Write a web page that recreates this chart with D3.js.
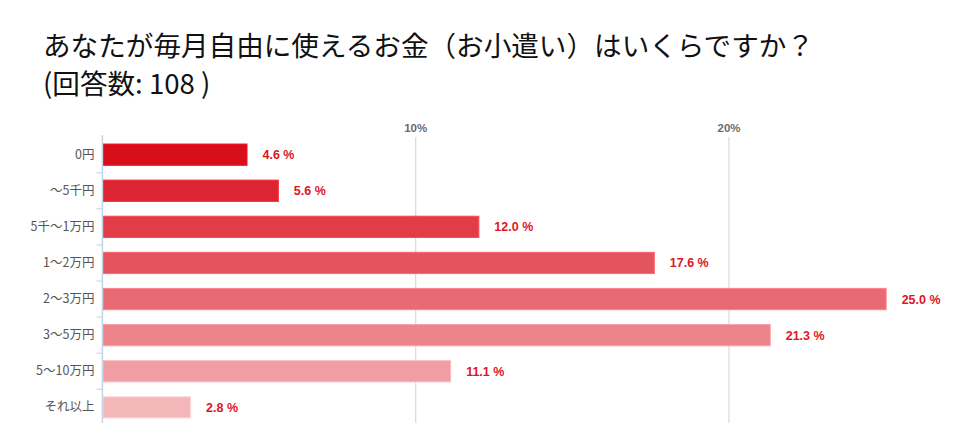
<!DOCTYPE html>
<html><head><meta charset="utf-8">
<script src="https://cdn.jsdelivr.net/npm/d3@7"></script>
<style>body{margin:0;background:#fff}svg{display:block}</style>
</head><body>
<svg id="c" width="960" height="443"></svg>
<script>
const titleLines = ["あなたが毎月自由に使えるお金（お小遣い）はいくらですか？", "(回答数: 108 )"];
const categories = ["0円","〜5千円","5千〜1万円","1〜2万円","2〜3万円","3〜5万円","5〜10万円","それ以上"];
const values = [4.6, 5.6, 12.0, 17.6, 25.0, 21.3, 11.1, 2.8];
const colors = ["#d70f1b","#dc2532","#e03d48","#e4545e","#e86b74","#ec848b","#f09ea3","#f3b7ba"];
const tickValues = [10, 20];

const svg = d3.select("#c");
const jp = "'Noto Sans CJK JP','Noto Sans',sans-serif";

svg.selectAll("text.title").data(titleLines).join("text")
  .attr("x", 43).attr("y", (d,i)=> 56 + i*38)
  .attr("font-family", jp).attr("font-size", 27.6).attr("fill", "#111")
  .text(d=>d);

const x = d3.scaleLinear().domain([0, 10]).range([102.4, 415.7]);
const y = d3.scaleBand().domain(categories).range([135, 427]).paddingInner(0.41).paddingOuter(0.25);

// gridlines
svg.selectAll("line.grid").data(tickValues).join("line")
  .attr("x1", d=>x(d)).attr("x2", d=>x(d)).attr("y1", 137).attr("y2", 423)
  .attr("stroke", "#d9d9d9").attr("stroke-width", 1.2);
svg.selectAll("text.tick").data(tickValues).join("text")
  .attr("x", d=>x(d)).attr("y", 132).attr("text-anchor","middle")
  .attr("font-family","'Liberation Sans',Arial,sans-serif").attr("font-weight","bold")
  .attr("font-size", 11.5).attr("fill","#6b6b6b").text(d=>d+"%");

// bars
svg.selectAll("rect.bar").data(values).join("rect")
  .attr("x", x(0)+0.5).attr("y", (d,i)=>y(categories[i]))
  .attr("width", d=>x(d)-x(0)).attr("height", y.bandwidth())
  .attr("fill", (d,i)=>colors[i])
  .attr("stroke", (d,i)=>d3.color(colors[i]).brighter(0.5)).attr("stroke-width", 1);

// value labels
svg.selectAll("text.val").data(values).join("text")
  .attr("x", d=>x(d)+16).attr("y", (d,i)=>y(categories[i])+y.bandwidth()/2+4.5)
  .attr("font-family","'Liberation Sans',Arial,sans-serif").attr("font-weight","bold")
  .attr("font-size", 12.5).attr("fill","#e0141f").text(d=>d.toFixed(1)+" %");

// left axis
const axis = d3.axisLeft(y).tickSize(0).tickPadding(8);
const g = svg.append("g").attr("transform", `translate(${x(0)},0)`).call(axis);
g.select(".domain").attr("stroke","#c5d3e3").attr("stroke-width",1.5).attr("d","M0,135V423");
g.selectAll("text").attr("font-family", jp).attr("font-size", 12.5).attr("fill","#555");
// small boundary ticks
const bounds = d3.range(1, categories.length).map(i => y(categories[i]) - y.step()*y.paddingInner()/2);
g.selectAll("line.bt").data(bounds).join("line")
  .attr("x1", -6).attr("x2", 0).attr("y1", d=>d).attr("y2", d=>d)
  .attr("stroke","#c5d3e3").attr("stroke-width",1);
</script>
</body></html>
